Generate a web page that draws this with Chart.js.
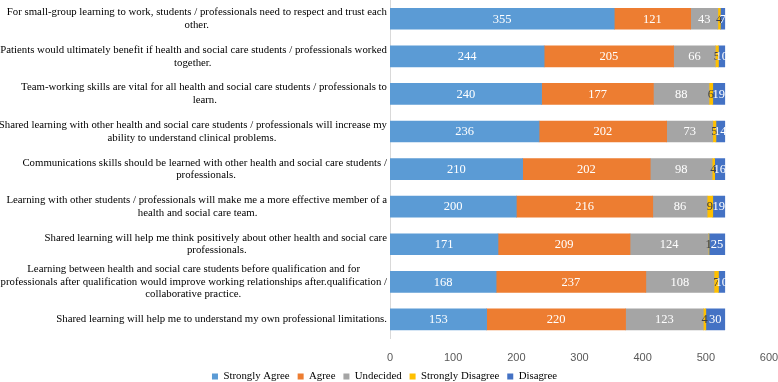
<!DOCTYPE html>
<html>
<head>
<meta charset="utf-8">
<script src="https://cdn.jsdelivr.net/npm/chart.js@4.4.0/dist/chart.umd.min.js"></script>
<style>
  html, body { margin: 0; padding: 0; background: #ffffff; }
  #wrap { width: 778px; height: 382px; }
</style>
</head>
<body>
<div id="wrap"><canvas id="c" width="778" height="382"></canvas></div>
<script>
const categories = [
  ["For small-group learning to work, students / professionals need to respect and trust each", "other."],
  ["Patients would ultimately benefit if health and social care students / professionals worked", "together."],
  ["Team-working skills are vital for all health and social care students / professionals to", "learn."],
  ["Shared learning with other health and social care students / professionals will increase my", "ability to understand clinical problems."],
  ["Communications skills should be learned with other health and social care students /", "professionals."],
  ["Learning with other students / professionals will make me a more effective member of a", "health and social care team."],
  ["Shared learning will help me think positively about other health and social care", "professionals."],
  ["Learning between health and social care students before qualification and for", "professionals after qualification would improve working relationships after.qualification /", "collaborative practice."],
  ["Shared learning will help me to understand my own professional limitations."]
];
const seriesNames = ["Strongly Agree", "Agree", "Undecided", "Strongly Disagree", "Disagree"];
const stronglyAgree = [355, 244, 240, 236, 210, 200, 171, 168, 153];
const agree = [121, 205, 177, 202, 202, 216, 209, 237, 220];
const undecided = [43, 66, 88, 73, 98, 86, 124, 108, 123];
const stronglyDisagree = [4, 5, 6, 5, 4, 9, 1, 7, 4];
const disagree = [7, 10, 19, 14, 16, 19, 25, 10, 30];
const xTickLabels = ["0", "100", "200", "300", "400", "500", "600"];

const seriesColors = ["#5B9BD5", "#ED7D31", "#A5A5A5", "#FFC000", "#4472C4"];
const labelColors = ["#ffffff", "#ffffff", "#ffffff", "#404040", "#ffffff"];

const catFont = { family: "'Liberation Serif', 'Times New Roman', serif", size: 10.8, lineHeight: 1.18 };

// centre the lines of each multi-line label within its own block (right-aligned block)
const mctx = document.createElement('canvas').getContext('2d');
mctx.font = catFont.size + "px " + catFont.family;
const spaceW = mctx.measureText(" ").width;
const paddedCategories = categories.map(lines => {
  const widths = lines.map(l => mctx.measureText(l).width);
  const maxW = Math.max(...widths);
  return lines.map((l, i) => {
    const n = Math.round(((maxW - widths[i]) / 2) / spaceW);
    return l + " ".repeat(n);
  });
});

const seriesData = [stronglyAgree, agree, undecided, stronglyDisagree, disagree];

const valueLabels = {
  id: 'valueLabels',
  afterDatasetsDraw(chart) {
    const ctx = chart.ctx;
    ctx.save();
    ctx.font = "12.5px 'Liberation Serif', 'Times New Roman', serif";
    ctx.textAlign = 'center';
    ctx.textBaseline = 'middle';
    chart.data.datasets.forEach((ds, di) => {
      const meta = chart.getDatasetMeta(di);
      meta.data.forEach((bar, i) => {
        const v = ds.data[i];
        const cx = (bar.x + bar.base) / 2;
        ctx.fillStyle = labelColors[di];
        ctx.fillText(String(v), cx, bar.y + 0.5);
      });
    });
    ctx.restore();
  }
};

new Chart(document.getElementById('c'), {
  type: 'bar',
  data: {
    labels: paddedCategories,
    datasets: seriesData.map((d, i) => ({
      label: seriesNames[i],
      data: d,
      backgroundColor: seriesColors[i],
      borderWidth: 0,
      barThickness: 21
    }))
  },
  options: {
    indexAxis: 'y',
    responsive: false,
    animation: false,
    devicePixelRatio: 1,
    layout: { padding: { left: 0, right: 9, top: 0, bottom: -10 } },
    scales: {
      x: {
        stacked: true,
        min: 0,
        max: 600,
        afterFit(scale) {
          scale.height = 25;
          scale.paddingLeft = 0;
          scale.paddingRight = 0;
        },
        grid: { display: false, drawTicks: false },
        border: { display: false },
        ticks: {
          stepSize: 100,
          autoSkip: false,
          maxRotation: 0,
          padding: 13,
          color: '#595959',
          font: { family: "'Liberation Sans', Arial, sans-serif", size: 11 },
          callback: (v, i) => xTickLabels[i]
        }
      },
      y: {
        stacked: true,
        afterFit(scale) {
          scale.width = 390;
          scale.paddingTop = 0;
          scale.paddingBottom = 0;
        },
        grid: { display: false, drawTicks: false },
        border: { display: true, color: '#d9d9d9', width: 1 },
        ticks: {
          padding: 3,
          color: '#000000',
          font: catFont,
          autoSkip: false
        }
      }
    },
    plugins: {
      tooltip: { enabled: false },
      legend: {
        position: 'bottom',
        labels: {
          boxWidth: 6,
          boxHeight: 6,
          padding: 8,
          color: '#000000',
          font: { family: "'Liberation Serif', 'Times New Roman', serif", size: 10.8 }
        }
      }
    }
  },
  plugins: [valueLabels]
});
</script>
</body>
</html>
